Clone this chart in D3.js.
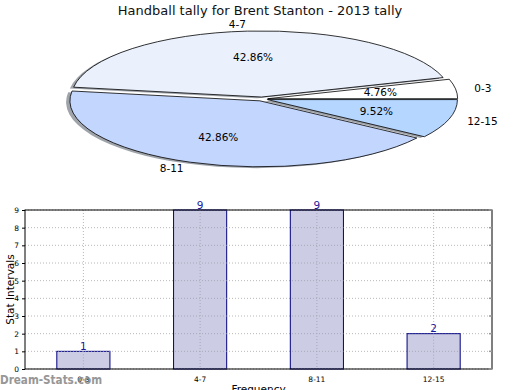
<!DOCTYPE html>
<html><head><meta charset="utf-8">
<script src="https://cdn.jsdelivr.net/npm/d3@7"></script>
<style>body{margin:0;background:#fff}svg{display:block;font-family:"DejaVu Sans",sans-serif}</style>
</head><body><svg id="c" width="520" height="390"></svg>
<script>
const categories = ["0-3","4-7","8-11","12-15"];
const values = [1,9,9,2];
const pieColors = ["#ffffff","#eaf1fd","#c3d6fe","#b4d6ff"];
const yTicks = [0,1,2,3,4,5,6,7,8,9];
const title = "Handball tally for Brent Stanton - 2013 tally";

const svg = d3.select("#c");
svg.append("text").attr("x",260).attr("y",15).attr("text-anchor","middle")
  .attr("font-size",13).attr("fill","#111").text(title);

// ---- Pie ----
const cx = 262, cy = 99, rx = 190, ry = 66, explode = 0.03;
const total = d3.sum(values);
const pie = d3.pie().sort(null).startAngle(Math.PI/2).endAngle(Math.PI/2 - 2*Math.PI)(values);
const arc = d3.arc().innerRadius(0).outerRadius(1);
const pg = svg.append("g").attr("transform",`translate(${cx},${cy})`);
function off(d, k){ const a=(d.startAngle+d.endAngle)/2; return [k*rx*Math.sin(a), -k*ry*Math.cos(a)]; }
pie.forEach((d,i)=>{
  const [ox,oy]=off(d,explode);
  pg.append("path").attr("d",arc(d))
    .attr("transform",`translate(${ox-0.02*rx},${oy+0.02*ry}) scale(${rx},${ry})`)
    .attr("fill","#8e949c").attr("opacity",0.85);
});
pie.forEach((d,i)=>{
  const [ox,oy]=off(d,explode);
  pg.append("path").attr("d",arc(d))
    .attr("transform",`translate(${ox},${oy}) scale(${rx},${ry})`)
    .attr("fill",pieColors[i]).attr("stroke","#000").attr("stroke-width",0.8)
    .attr("vector-effect","non-scaling-stroke").attr("stroke-linejoin","round");
});
pie.forEach((d,i)=>{
  const [ox,oy]=off(d,explode);
  const a=(d.startAngle+d.endAngle)/2;
  const lx = 1.1*rx*Math.sin(a)+ox, ly = -1.1*ry*Math.cos(a)+oy;
  pg.append("text").attr("x",lx).attr("y",ly).attr("dy","0.35em")
    .attr("text-anchor", Math.sin(a)<0 ? "end":"start")
    .attr("font-size",10.5).attr("fill","#000").text(categories[i]);
  const px = 0.6*rx*Math.sin(a)+ox, py = -0.6*ry*Math.cos(a)+oy;
  pg.append("text").attr("x",px).attr("y",py).attr("dy","0.35em")
    .attr("text-anchor","middle").attr("font-size",10.5).attr("fill","#000")
    .text((values[i]/total*100).toFixed(2)+"%");
});

// ---- Bar ----
const m = {l:25, r:492, t:210, b:369};
const x = d3.scaleBand().domain(categories).range([m.l,m.r]).paddingInner(0.545).paddingOuter(0.2725);
const y = d3.scaleLinear().domain([0,9]).range([m.b,m.t]);
const bg = svg.append("g");
bg.selectAll(".gy").data(yTicks).join("line")
  .attr("x1",m.l).attr("x2",m.r).attr("y1",d=>y(d)).attr("y2",d=>y(d))
  .attr("stroke","#b8b8b8").attr("stroke-width",1).attr("stroke-dasharray","1,2");
bg.selectAll(".gx").data(categories).join("line")
  .attr("x1",d=>x(d)+x.bandwidth()/2).attr("x2",d=>x(d)+x.bandwidth()/2)
  .attr("y1",m.t).attr("y2",m.b)
  .attr("stroke","#b8b8b8").attr("stroke-width",1).attr("stroke-dasharray","1,2");
bg.selectAll(".bar").data(values).join("rect")
  .attr("x",(d,i)=>x(categories[i])).attr("width",x.bandwidth())
  .attr("y",d=>y(d)).attr("height",d=>y(0)-y(d))
  .attr("fill","#ccccE4").attr("stroke","#000080").attr("stroke-width",1);
bg.selectAll(".gx2").data(categories).join("line")
  .attr("x1",d=>x(d)+x.bandwidth()/2).attr("x2",d=>x(d)+x.bandwidth()/2)
  .attr("y1",(d,i)=>y(values[i])).attr("y2",m.b)
  .attr("stroke","#a8a8b8").attr("stroke-width",1).attr("stroke-dasharray","1,2");
const cp = svg.append("defs").append("clipPath").attr("id","barsclip");
values.forEach((v,i)=>cp.append("rect").attr("x",x(categories[i])).attr("width",x.bandwidth()).attr("y",y(v)).attr("height",y(0)-y(v)));
bg.selectAll(".gy2").data(yTicks).join("line")
  .attr("x1",m.l).attr("x2",m.r).attr("y1",d=>y(d)).attr("y2",d=>y(d))
  .attr("stroke","#a8a8b8").attr("stroke-width",1).attr("stroke-dasharray","1,2")
  .attr("clip-path","url(#barsclip)");
bg.append("rect").attr("x",m.l).attr("y",m.t).attr("width",m.r-m.l).attr("height",m.b-m.t)
  .attr("fill","none").attr("stroke","#000").attr("stroke-width",1);
const ya = d3.axisLeft(y).tickValues(yTicks).tickSize(3).tickSizeOuter(0);
const yg = bg.append("g").attr("transform",`translate(${m.l},0)`).call(ya);
yg.select(".domain").remove();
yg.selectAll("text").attr("font-size",7.5).attr("font-family","DejaVu Sans").attr("fill","#000");
const xa = d3.axisBottom(x).tickSize(3).tickSizeOuter(0);
const xg = bg.append("g").attr("transform",`translate(0,${m.b})`).call(xa);
xg.select(".domain").remove();
xg.selectAll("line").remove();
xg.selectAll("text").attr("font-size",7.5).attr("font-family","DejaVu Sans").attr("fill","#000").attr("dy","0.9em");
bg.selectAll(".rt").data(yTicks).join("line")
  .attr("x1",m.r-3).attr("x2",m.r).attr("y1",d=>y(d)).attr("y2",d=>y(d))
  .attr("stroke","#999").attr("stroke-width",1.5);
bg.selectAll(".vl").data(values).join("text")
  .attr("x",(d,i)=>x(categories[i])+x.bandwidth()/2).attr("y",d=>y(d)-1.5)
  .attr("text-anchor","middle").attr("font-size",10.5).attr("fill","#1a1a9a").text(d=>d);
svg.append("text").attr("transform",`translate(10,${(m.t+m.b)/2}) rotate(-90)`)
  .attr("dy","0.35em").attr("text-anchor","middle").attr("font-size",10.5).attr("fill","#000").text("Stat Intervals");
svg.append("text").attr("x",(m.l+m.r)/2).attr("y",393).attr("text-anchor","middle")
  .attr("font-size",10.5).attr("fill","#000").text("Frequency");
svg.append("text").attr("x",0).attr("y",384).attr("font-size",11.5).attr("font-weight","bold")
  .attr("textLength",102).attr("lengthAdjust","spacingAndGlyphs")
  .attr("fill","#8c8c8c").attr("opacity",0.9).text("Dream-Stats.com");
</script></body></html>
